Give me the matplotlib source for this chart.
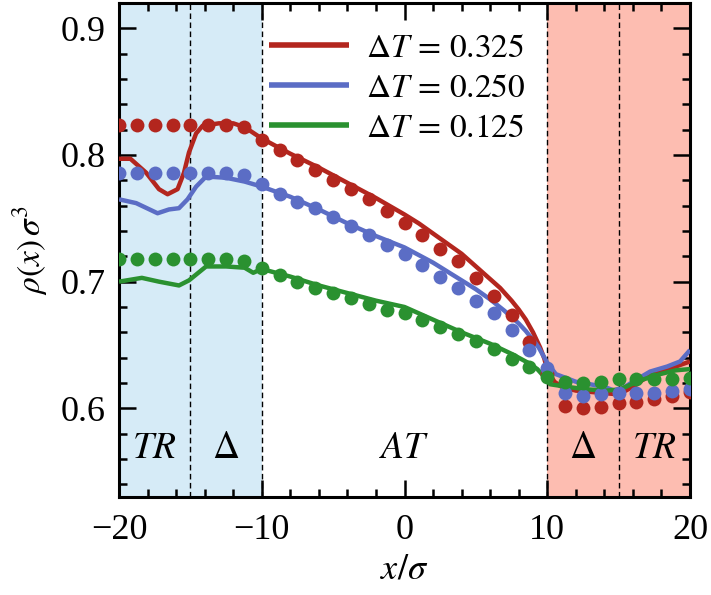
import numpy as np
import matplotlib
matplotlib.use('Agg')
import matplotlib.pyplot as plt
from matplotlib.ticker import MultipleLocator

plt.rcParams['font.family'] = ['Liberation Serif', 'DejaVu Serif']
plt.rcParams['mathtext.fontset'] = 'stix'

# Simulation points (symbols)
x_dots = [-20, -18.75, -17.5, -16.25, -15, -13.75, -12.5, -11.25, -10, -8.75, -7.5,
          -6.25, -5, -3.75, -2.5, -1.25, 0, 1.25, 2.5, 3.75, 5, 6.25, 7.5, 8.75,
          10, 11.25, 12.5, 13.75, 15, 16.25, 17.5, 18.75, 20]
red_dots = [0.824, 0.824, 0.824, 0.824, 0.824, 0.824, 0.824, 0.822, 0.812, 0.804, 0.796,
            0.788, 0.780, 0.773, 0.765, 0.756, 0.746, 0.737, 0.726, 0.716, 0.703, 0.689,
            0.674, 0.652, 0.627, 0.602, 0.600, 0.601, 0.604, 0.605, 0.607, 0.610, 0.613]
blue_dots = [0.786, 0.786, 0.786, 0.786, 0.786, 0.786, 0.786, 0.784, 0.777, 0.769, 0.763,
             0.758, 0.751, 0.744, 0.737, 0.729, 0.722, 0.713, 0.704, 0.695, 0.685, 0.675,
             0.662, 0.646, 0.632, 0.612, 0.610, 0.611, 0.612, 0.612, 0.612, 0.614, 0.615]
green_dots = [0.718, 0.718, 0.718, 0.718, 0.718, 0.718, 0.718, 0.716, 0.711, 0.705, 0.700,
              0.695, 0.691, 0.687, 0.682, 0.678, 0.675, 0.670, 0.664, 0.659, 0.653, 0.647,
              0.639, 0.633, 0.625, 0.621, 0.620, 0.621, 0.623, 0.623, 0.623, 0.623, 0.624]

# Theory curves (lines)
red_x = [-20, -19.2, -18.1, -17.2, -16.6, -15.9, -15.45, -15.1, -14.6, -14.15, -13, -12,
         -11.2, -10, -8, -6, -4, -2, 0, 1, 2, 3, 4, 5, 6, 6.7, 7.5, 8, 8.5, 9, 9.5, 9.8,
         10, 10.5, 11, 12, 13, 14, 15, 16, 17, 18, 19, 20]
red_y = [0.797, 0.797, 0.786, 0.773, 0.769, 0.773, 0.786, 0.802, 0.817, 0.823, 0.825, 0.825,
         0.822, 0.813, 0.801, 0.790, 0.778, 0.766, 0.753, 0.746, 0.738, 0.730, 0.722, 0.712,
         0.702, 0.695, 0.685, 0.678, 0.670, 0.660, 0.648, 0.639, 0.630, 0.621, 0.617, 0.614,
         0.613, 0.612, 0.611, 0.617, 0.625, 0.630, 0.633, 0.637]
blue_x = [-20, -18.8, -17.3, -16.5, -15.8, -15.2, -14.6, -13.9, -12.5, -11.2, -10, -8, -6,
          -4, -2, 0, 2, 4, 5, 6, 7, 8, 8.5, 9, 9.4, 9.7, 10, 10.6, 12, 13, 14, 14.9, 16,
          17.2, 18.4, 19.3, 20]
blue_y = [0.765, 0.762, 0.754, 0.757, 0.758, 0.765, 0.775, 0.783, 0.782, 0.779, 0.775, 0.767,
          0.757, 0.746, 0.736, 0.727, 0.715, 0.701, 0.694, 0.686, 0.677, 0.667, 0.661, 0.654,
          0.648, 0.642, 0.636, 0.627, 0.621, 0.619, 0.617, 0.613, 0.621, 0.629, 0.633, 0.637,
          0.646]
green_x = [-20, -18.4, -17.2, -15.8, -15.1, -13.9, -12.5, -11.2, -10.6, -10, -8, -6, -4, -2,
           0, 2, 4, 6, 7.5, 8.65, 9.3, 9.7, 10.2, 11.35, 12.75, 14.15, 15.1, 16.5, 17.9, 19,
           20]
green_y = [0.700, 0.703, 0.700, 0.697, 0.701, 0.712, 0.712, 0.711, 0.707, 0.710, 0.704, 0.697,
           0.691, 0.685, 0.680, 0.670, 0.660, 0.651, 0.643, 0.636, 0.631, 0.626, 0.619, 0.617,
           0.615, 0.614, 0.615, 0.622, 0.627, 0.630, 0.631]

labels = [r'$\Delta T\,=\,0.325$', r'$\Delta T\,=\,0.250$', r'$\Delta T\,=\,0.125$']
colors = ['#b3261e', '#5b6dc5', '#2a9130']

region_x = [-17.5, -12.5, 0, 12.5, 17.5]
region_text = [r'$TR$', r'$\Delta$', r'$AT$', r'$\Delta$', r'$TR$']

fig = plt.figure(figsize=(7.11, 5.95), dpi=100)
ax = fig.add_axes([0.1674, 0.1647, 0.8031, 0.8303])

# shaded regions
ax.axvspan(-20, -10, color='#d6ebf7', lw=0, zorder=0)
ax.axvspan(10, 20, color='#fdbdb1', lw=0, zorder=0)
for xv in [-15, -10, 10, 15]:
    ax.axvline(xv, color='k', ls=(0, (4, 2.5)), lw=1.0, zorder=1)

# curves
lines_x = [red_x, blue_x, green_x]
lines_y = [red_y, blue_y, green_y]
dots_y = [red_dots, blue_dots, green_dots]
for lx, ly, c, lab in zip(lines_x, lines_y, colors, labels):
    ax.plot(lx, ly, color=c, lw=3.2, label=lab, zorder=3, solid_capstyle='butt')
for dy, c in zip(dots_y, colors):
    ax.plot(x_dots, dy, 'o', color=c, ms=10, mew=0, zorder=4)

for xt, t in zip(region_x, region_text):
    ax.text(xt, 0.568, t, fontsize=27, ha='center', va='center')

ax.set_xlim(-20, 20)
ax.set_ylim(0.53, 0.92)
ax.xaxis.set_major_locator(MultipleLocator(10))
ax.xaxis.set_minor_locator(MultipleLocator(2))
ax.yaxis.set_major_locator(MultipleLocator(0.1))
ax.yaxis.set_minor_locator(MultipleLocator(0.02))
ax.set_xticks([-20, -10, 0, 10, 20])
ax.set_xticklabels(['\u221220', '\u221210', '0', '10', '20'])
ax.tick_params(which='both', direction='in', top=True, right=True, labelsize=26, width=1.8)
ax.tick_params(which='major', length=12)
ax.tick_params(which='minor', length=6)
ax.tick_params(axis='x', which='major', pad=12)
ax.tick_params(axis='y', which='major', pad=10)
for s in ax.spines.values():
    s.set_linewidth(2.2)

ax.set_xlabel(r'$x/\sigma$', fontsize=26, labelpad=5)
ax.set_ylabel(r'$\rho(x)\,\sigma^3$', fontsize=24, labelpad=7)

leg = ax.legend(loc='upper left', bbox_to_anchor=(0.24, 0.965), frameon=False, fontsize=24,
                handlelength=2.4, handletextpad=0.5, labelspacing=0.28, borderaxespad=0)
for h in leg.get_lines():
    h.set_linewidth(4)

fig.savefig('out.png', dpi=100)
